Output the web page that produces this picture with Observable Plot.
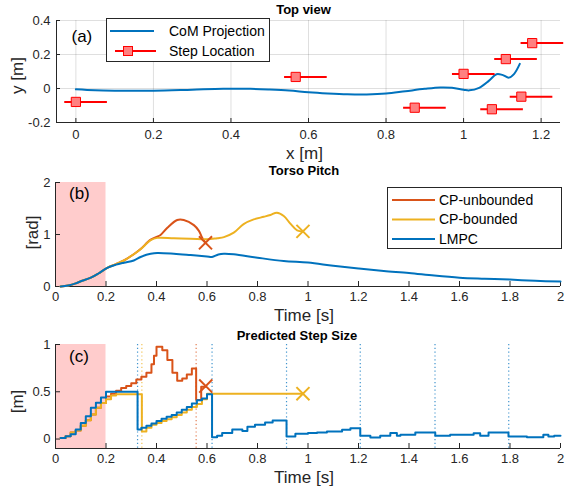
<!DOCTYPE html>
<html><head><meta charset="utf-8">
<script src="https://cdn.jsdelivr.net/npm/d3@7"></script>
<script src="https://cdn.jsdelivr.net/npm/@observablehq/plot@0.6"></script>
<style>
body{margin:0;background:#fff;font-family:"Liberation Sans",Arial,sans-serif;}
#fig{position:relative;width:565px;height:496px;overflow:hidden;background:#fff;}
.panel{position:absolute;left:0;}
.legend{position:absolute;border:1px solid #262626;background:#fff;}
.legend svg{display:block;}
.legend text{font-family:"Liberation Sans",Arial,sans-serif;font-size:14px;fill:#000;}
</style></head><body><div id="fig"></div>
<script>
// ---------- Panel (a) Top view ----------
const comX = [0, 0.05, 0.1, 0.2, 0.3, 0.38, 0.45, 0.5, 0.55, 0.6, 0.65, 0.7, 0.75, 0.8, 0.85, 0.9, 0.94, 0.97, 1.0, 1.015, 1.04, 1.065, 1.085, 1.1, 1.117, 1.13, 1.145];
const comY = [-0.005, -0.011, -0.013, -0.013, -0.007, -0.002, -0.002, -0.006, -0.012, -0.022, -0.029, -0.034, -0.035, -0.03, -0.016, -0.002, 0.006, 0.004, -0.007, -0.011, 0.004, 0.045, 0.084, 0.08, 0.064, 0.085, 0.145];
const stepX = [0, 0.567, 0.874, 1.0, 1.073, 1.109, 1.149, 1.177];
const stepY = [-0.079, 0.068, -0.113, 0.086, -0.122, 0.173, -0.048, 0.267];
const footBack = 0.03, footFront = 0.08;
const topXDomain = [-0.05, 1.25], topYDomain = [-0.2, 0.4];
const topXTicks = [0, 0.2, 0.4, 0.6, 0.8, 1, 1.2];
const topYTicks = [-0.2, 0, 0.2, 0.4];

// ---------- Panel (b) Torso pitch ----------
const unbPitchT = [0.02,0.05,0.08,0.10,0.14,0.17,0.205,0.24,0.271,0.31,0.337,0.377,0.403,0.416,0.443,0.482,0.508,0.548,0.568,0.581,0.594];
const unbPitchV = [0,0.02,0.06,0.1,0.17,0.25,0.36,0.43,0.5,0.62,0.72,0.9,0.96,0.99,1.13,1.28,1.28,1.18,1.07,0.94,0.84];
const bndPitchT = [0.02,0.05,0.08,0.10,0.14,0.17,0.205,0.24,0.271,0.31,0.337,0.377,0.403,0.469,0.535,0.6,0.64,0.667,0.706,0.745,0.785,0.825,0.851,0.877,0.904,0.93,0.957,0.98];
const bndPitchV = [0,0.02,0.06,0.1,0.17,0.25,0.36,0.43,0.5,0.62,0.715,0.89,0.935,0.926,0.92,0.907,0.93,0.95,1.035,1.2,1.29,1.34,1.375,1.42,1.355,1.21,1.08,1.06];
const lmpcPitchT = [0.02,0.05,0.08,0.10,0.14,0.17,0.205,0.24,0.271,0.31,0.337,0.36,0.377,0.403,0.469,0.535,0.6,0.62,0.645,0.667,0.706,0.8,0.904,1.0,1.1,1.2,1.3,1.4,1.5,1.6,1.7,1.8,1.9,2.0];
const lmpcPitchV = [0,0.02,0.06,0.1,0.17,0.25,0.36,0.42,0.458,0.5,0.567,0.61,0.63,0.644,0.63,0.605,0.578,0.568,0.615,0.63,0.62,0.554,0.49,0.46,0.4,0.348,0.3,0.26,0.21,0.17,0.15,0.133,0.11,0.095];
const unbPitchFail = [0.594, 0.84];
const bndPitchFail = [0.98, 1.06];
const pitchYDomain = [0, 2];
const pitchYTicks = [0, 1, 2];

// ---------- Panel (c) Predicted step size ----------
const unbStepT = [0.02,0.04,0.06,0.08,0.10,0.12,0.14,0.16,0.18,0.20,0.22,0.24,0.26,0.28,0.30,0.32,0.34,0.36,0.38,0.39,0.40,0.423,0.443,0.463,0.482,0.502,0.52,0.54,0.557,0.577,0.595];
const unbStepV = [0.01,0.03,0.07,0.09,0.14,0.20,0.26,0.33,0.38,0.45,0.48,0.51,0.54,0.56,0.59,0.63,0.66,0.70,0.79,0.88,0.975,0.94,0.835,0.70,0.617,0.64,0.684,0.747,0.414,0.554,0.554];
const bndStepT = [0.02,0.04,0.06,0.08,0.10,0.12,0.14,0.16,0.18,0.20,0.22,0.24,0.342,0.36,0.38,0.40,0.42,0.44,0.46,0.48,0.50,0.52,0.54,0.56,0.58,0.60,0.98];
const bndStepV = [0.01,0.03,0.07,0.09,0.14,0.20,0.26,0.33,0.38,0.42,0.46,0.475,0.08,0.12,0.15,0.17,0.19,0.21,0.23,0.255,0.28,0.31,0.34,0.37,0.42,0.48,0.48];
const lmpcStepT = [0.02,0.04,0.06,0.08,0.10,0.12,0.14,0.16,0.18,0.20,0.325,0.34,0.36,0.38,0.40,0.42,0.44,0.46,0.48,0.50,0.52,0.54,0.56,0.58,0.60,0.62,0.64,0.66,0.70,0.74,0.76,0.79,0.83,0.86,0.915,0.95,1.0,1.036,1.075,1.135,1.168,1.207,1.247,1.286,1.326,1.352,1.366,1.425,1.504,1.563,1.656,1.682,1.715,1.794,1.867,1.932,1.952,1.975,2.0];
const lmpcStepV = [0.01,0.03,0.05,0.10,0.17,0.24,0.33,0.385,0.44,0.50,0.10,0.12,0.14,0.165,0.19,0.215,0.235,0.255,0.28,0.31,0.34,0.375,0.41,0.43,0.474,0.02,0.035,0.065,0.10,0.085,0.13,0.15,0.175,0.196,0.027,0.055,0.065,0.07,0.08,0.098,0.115,0.035,0.017,0.035,0.063,0.035,0.045,0.07,0.035,0.045,0.06,0.035,0.07,0.027,0.02,0.045,0.027,0.035,0.035];
const unbStepFail = [0.595, 0.56];
const bndStepFail = [0.98, 0.48];
const lmpcTouchdowns = [0.325, 0.62, 0.915, 1.207, 1.503, 1.795];
const bndTouchdowns = [0.342];
const unbTouchdowns = [0.557];
const stepYDomain = [-0.1, 1];
const stepYTicks = [0, 0.5, 1];

// shared
const timeDomain = [0, 2];
const timeTicks = [0, 0.2, 0.4, 0.6, 0.8, 1, 1.2, 1.4, 1.6, 1.8, 2];
const perturbWindow = [{start: 0, end: 0.2}];

const blue = "#0072BD", orange = "#D95319", yellow = "#EDB120";
const axisColor = "#262626";
const W = 565;
const fmt = d => String(Math.round(d * 100) / 100);
const zip = (xs, ys) => xs.map((x, i) => ({x, y: ys[i]}));
const font = "Liberation Sans, Arial, sans-serif";

function axes(o) {
  const fh = o.height - o.marginTop - o.marginBottom;
  const fw = W - o.marginLeft - o.marginRight;
  return [
    Plot.ruleX(o.xTicks, {stroke: axisColor, strokeWidth: 1, insetTop: fh - o.tick}),
    Plot.ruleY(o.yTicks, {stroke: axisColor, strokeWidth: 1, insetRight: fw - o.tick}),
    Plot.ruleY([o.yDomain[0]], {stroke: axisColor, strokeWidth: 1}),
    Plot.ruleX([o.xDomain[0]], {stroke: axisColor, strokeWidth: 1}),
    Plot.axisX({ticks: o.xTicks, tickSize: 0, tickPadding: o.xPad, tickFormat: fmt, label: null, fontSize: 13}),
    Plot.axisY({ticks: o.yTicks, tickSize: 0, tickPadding: o.yPad, tickFormat: fmt, label: null, fontSize: 13}),
    Plot.text([o.title], {frameAnchor: "top", dx: o.titleDx, dy: o.titleDy, fontWeight: "bold", fontSize: 13, fill: "#000", lineAnchor: "middle", textAnchor: "middle"}),
    Plot.text([o.xLabel], {frameAnchor: "bottom", dx: o.xLabelDx, dy: o.xLabelDy, fontSize: 17, fill: axisColor, lineAnchor: "middle", textAnchor: "middle"}),
    Plot.text([o.yLabel], {frameAnchor: "left", dx: o.yLabelDx, dy: o.yLabelDy, rotate: -90, fontSize: 17, fill: axisColor, lineAnchor: "middle", textAnchor: "middle"}),
    Plot.text([o.letter], {frameAnchor: "top-left", dx: o.letterDx, dy: o.letterDy, fontSize: 17, fill: "#000", lineAnchor: "middle", textAnchor: "start"})
  ];
}

function makePanel(o, marks) {
  const chart = Plot.plot({
    width: W, height: o.height,
    marginTop: o.marginTop, marginBottom: o.marginBottom,
    marginLeft: o.marginLeft, marginRight: o.marginRight,
    x: {domain: o.xDomain},
    y: {domain: o.yDomain},
    style: {fontFamily: font, fontSize: "13px", color: axisColor, background: "transparent", overflow: "visible"},
    marks: [...marks.before, ...axes(o), ...marks.after]
  });
  const wrap = document.createElement("div");
  wrap.className = "panel";
  wrap.style.top = o.top + "px";
  wrap.appendChild(chart);
  document.getElementById("fig").appendChild(wrap);
}

// Panel (a)
const com = zip(comX, comY);
const steps = zip(stepX, stepY);
const optA = {top: 0, height: 160, marginTop: 20, marginBottom: 38, marginLeft: 56, marginRight: 5,
  xDomain: topXDomain, yDomain: topYDomain, xTicks: topXTicks, yTicks: topYTicks, tick: 4, xPad: 7.5, yPad: 6,
  title: "Top view", titleDx: -5, titleDy: -11, xLabel: "x [m]", xLabelDx: -4, xLabelDy: 31,
  yLabel: "y [m]", yLabelDx: -39, yLabelDy: 4, letter: "(a)", letterDx: 15, letterDy: 16};
makePanel(optA, {
  before: [
    Plot.ruleX(topXTicks, {stroke: axisColor, strokeOpacity: 0.15}),
    Plot.ruleY(topYTicks, {stroke: axisColor, strokeOpacity: 0.15})
  ],
  after: [
    Plot.line(com, {x: "x", y: "y", stroke: blue, strokeWidth: 2, curve: "catmull-rom"}),
    Plot.link(steps, {x1: d => d.x - footBack, x2: d => d.x + footFront, y1: "y", y2: "y", stroke: "#ff0000", strokeWidth: 2}),
    Plot.dot(steps, {x: "x", y: "y", symbol: "square", r: 5.2, fill: "#ff8080", stroke: "#ff0000", strokeWidth: 1})
  ]
});

// Panel (b)
const optB = {top: 160, height: 165, marginTop: 22, marginBottom: 39, marginLeft: 55, marginRight: 5,
  xDomain: timeDomain, yDomain: pitchYDomain, xTicks: timeTicks, yTicks: pitchYTicks, tick: 5, xPad: 5.5, yPad: 5,
  title: "Torso Pitch", titleDx: -4, titleDy: -12, xLabel: "Time [s]", xLabelDx: -4, xLabelDy: 29,
  yLabel: "[rad]", yLabelDx: -23, yLabelDy: -2, letter: "(b)", letterDx: 13.5, letterDy: 11.5};
makePanel(optB, {
  before: [Plot.rect(perturbWindow, {x1: "start", x2: "end", fill: "#ffcccc"})],
  after: [
    Plot.line(zip(unbPitchT, unbPitchV), {x: "x", y: "y", stroke: orange, strokeWidth: 2, curve: "catmull-rom"}),
    Plot.line(zip(bndPitchT, bndPitchV), {x: "x", y: "y", stroke: yellow, strokeWidth: 2, curve: "catmull-rom"}),
    Plot.line(zip(lmpcPitchT, lmpcPitchV), {x: "x", y: "y", stroke: blue, strokeWidth: 2, curve: "catmull-rom"}),
    Plot.dot([{x: unbPitchFail[0], y: unbPitchFail[1]}], {x: "x", y: "y", symbol: "times", r: 6, stroke: orange, strokeWidth: 2}),
    Plot.dot([{x: bndPitchFail[0], y: bndPitchFail[1]}], {x: "x", y: "y", symbol: "times", r: 6, stroke: yellow, strokeWidth: 2})
  ]
});

// Panel (c)
const optC = {top: 325, height: 171, marginTop: 19, marginBottom: 48, marginLeft: 55, marginRight: 5,
  xDomain: timeDomain, yDomain: stepYDomain, xTicks: timeTicks, yTicks: stepYTicks, tick: 5, xPad: 5, yPad: 5,
  title: "Predicted Step Size", titleDx: -11, titleDy: -9, xLabel: "Time [s]", xLabelDx: -4, xLabelDy: 29.5,
  yLabel: "[m]", yLabelDx: -38, yLabelDy: 5, letter: "(c)", letterDx: 13.5, letterDy: 12.5};
makePanel(optC, {
  before: [
    Plot.rect(perturbWindow, {x1: "start", x2: "end", fill: "#ffcccc"}),
    Plot.ruleX(lmpcTouchdowns, {stroke: blue, strokeOpacity: 0.75, strokeWidth: 1.2, strokeDasharray: "1.2,2.6"}),
    Plot.ruleX(bndTouchdowns, {stroke: yellow, strokeOpacity: 0.75, strokeWidth: 1.2, strokeDasharray: "1.2,2.6"}),
    Plot.ruleX(unbTouchdowns, {stroke: orange, strokeOpacity: 0.75, strokeWidth: 1.2, strokeDasharray: "1.2,2.6"})
  ],
  after: [
    Plot.line(zip(unbStepT, unbStepV), {x: "x", y: "y", stroke: orange, strokeWidth: 2, curve: "step-after"}),
    Plot.line(zip(bndStepT, bndStepV), {x: "x", y: "y", stroke: yellow, strokeWidth: 2, curve: "step-after"}),
    Plot.line(zip(lmpcStepT, lmpcStepV), {x: "x", y: "y", stroke: blue, strokeWidth: 2, curve: "step-after"}),
    Plot.dot([{x: unbStepFail[0], y: unbStepFail[1]}], {x: "x", y: "y", symbol: "times", r: 6, stroke: orange, strokeWidth: 2}),
    Plot.dot([{x: bndStepFail[0], y: bndStepFail[1]}], {x: "x", y: "y", symbol: "times", r: 6, stroke: yellow, strokeWidth: 2})
  ]
});

// Legends
const NS = "http://www.w3.org/2000/svg";
function legend(left, top, w, h, rows) {
  const div = document.createElement("div");
  div.className = "legend";
  div.style.left = left + "px"; div.style.top = top + "px";
  div.style.width = w + "px"; div.style.height = h + "px";
  const svg = document.createElementNS(NS, "svg");
  svg.setAttribute("width", w); svg.setAttribute("height", h);
  for (const r of rows) {
    const ln = document.createElementNS(NS, "line");
    ln.setAttribute("x1", r.x1); ln.setAttribute("x2", r.x2);
    ln.setAttribute("y1", r.y); ln.setAttribute("y2", r.y);
    ln.setAttribute("stroke", r.color); ln.setAttribute("stroke-width", 2);
    svg.appendChild(ln);
    if (r.marker != null) {
      const m = document.createElementNS(NS, "rect");
      m.setAttribute("x", r.marker - 4.5); m.setAttribute("y", r.y - 4.5);
      m.setAttribute("width", 9); m.setAttribute("height", 9);
      m.setAttribute("fill", "#ff8080"); m.setAttribute("stroke", "#ff0000");
      svg.appendChild(m);
    }
    const t = document.createElementNS(NS, "text");
    t.setAttribute("x", r.tx); t.setAttribute("y", r.y);
    t.setAttribute("dy", "0.35em");
    t.textContent = r.label;
    svg.appendChild(t);
  }
  div.appendChild(svg);
  document.getElementById("fig").appendChild(div);
}
const legendA = ["CoM Projection", "Step Location"];
const legendB = ["CP-unbounded", "CP-bounded", "LMPC"];
legend(106, 18, 162, 42, [
  {label: legendA[0], color: blue, x1: 3, x2: 47, y: 12, tx: 62},
  {label: legendA[1], color: "#ff0000", x1: 8, x2: 49, y: 32, tx: 62, marker: 21}
]);
legend(387, 187, 173, 60, [
  {label: legendB[0], color: orange, x1: 4, x2: 47, y: 12, tx: 51},
  {label: legendB[1], color: yellow, x1: 4, x2: 47, y: 31.5, tx: 51},
  {label: legendB[2], color: blue, x1: 4, x2: 47, y: 51, tx: 51}
]);
</script></body></html>
